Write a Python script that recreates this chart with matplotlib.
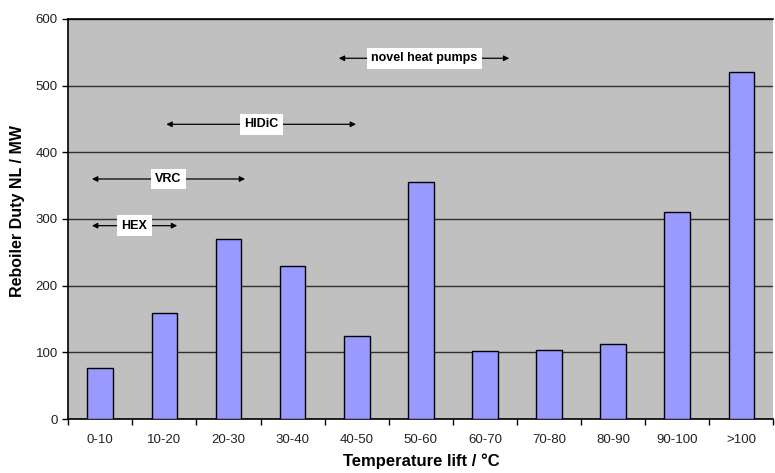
import matplotlib.pyplot as plt
import numpy as np

plt.rcParams['font.family'] = ['Liberation Sans', 'DejaVu Sans']

# Data
categories = ['0-10', '10-20', '20-30', '30-40', '40-50', '50-60',
              '60-70', '70-80', '80-90', '90-100', '>100']
duty = [77, 159, 270, 230, 125, 355, 102, 104, 113, 310, 520]

# technology ranges: (label, y, x_start, x_end) in category units
ranges_labels = ['HEX', 'VRC', 'HIDiC', 'novel heat pumps']
ranges_y = [290, 360, 442, 541]
ranges_x0 = [-0.13, -0.13, 1.03, 3.72]
ranges_x1 = [1.2, 2.26, 3.99, 6.38]

fig = plt.figure(figsize=(7.75, 4.73), dpi=100)
ax = fig.add_axes([0.088, 0.114, 0.91, 0.846])
ax.set_facecolor('#c0c0c0')

x = np.arange(len(categories))
ax.bar(x, duty, width=0.4, color='#9999ff', edgecolor='black', linewidth=1, zorder=3)

ax.set_ylim(0, 600)
ax.set_xlim(-0.5, len(categories) - 0.5)
ax.set_yticks(range(0, 601, 100))
ax.yaxis.grid(True, color='#303030', linewidth=1, zorder=0)
ax.set_axisbelow(True)

ax.set_xticks(x)
ax.set_xticklabels(categories)
ax.set_xticks(np.arange(-0.5, len(categories), 1), minor=True)
ax.tick_params(axis='x', which='major', length=0, pad=11, labelsize=9.5, colors='#222222')
ax.tick_params(axis='x', which='minor', length=4, width=1)
ax.tick_params(axis='y', length=4, width=1, labelsize=9.5, labelcolor='#222222')

for s in ['left', 'bottom', 'top']:
    ax.spines[s].set_linewidth(1.2)
    ax.spines[s].set_color('black')
ax.spines['right'].set_visible(False)

ax.set_xlabel('Temperature lift / °C', fontsize=12, fontweight='bold', labelpad=5)
ax.set_ylabel('Reboiler Duty NL / MW', fontsize=11.5, fontweight='bold')
ax.yaxis.set_label_coords(-0.061, 0.52)

for lab, yv, x0, x1 in zip(ranges_labels, ranges_y, ranges_x0, ranges_x1):
    ax.annotate('', xy=(x0, yv), xytext=(x1, yv),
                arrowprops=dict(arrowstyle='<|-|>', color='black', lw=0.9,
                                mutation_scale=8, shrinkA=0, shrinkB=0), zorder=4)
    ax.text((x0 + x1) / 2, yv, lab, ha='center', va='center', fontsize=9,
            fontweight='bold', zorder=5,
            bbox=dict(boxstyle='square,pad=0.35', facecolor='white', edgecolor='none'))

fig.savefig('out.png', dpi=100)
